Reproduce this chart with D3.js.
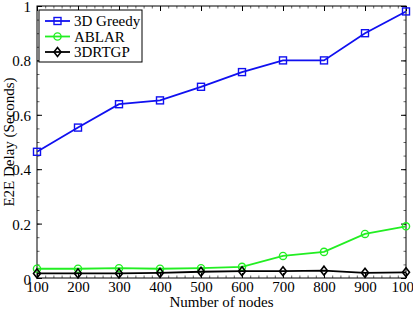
<!DOCTYPE html>
<html>
<head>
<meta charset="utf-8">
<script src="https://cdn.jsdelivr.net/npm/d3@7"></script>
<style>
  body { margin: 0; background: #fff; }
  svg, svg text { font-family: "Liberation Serif", "DejaVu Serif", "Times New Roman", Times, serif; }
</style>
</head>
<body>
<div id="main"></div>
<script>
const nodes = [100, 200, 300, 400, 500, 600, 700, 800, 900, 1000];
const greedy = [0.464, 0.553, 0.639, 0.653, 0.703, 0.757, 0.80, 0.80, 0.90, 0.98];
const ablar = [0.034, 0.034, 0.036, 0.034, 0.036, 0.041, 0.081, 0.096, 0.162, 0.19];
const rtgp = [0.017, 0.017, 0.017, 0.019, 0.023, 0.025, 0.025, 0.027, 0.019, 0.021];
const yTicks = [0, 0.2, 0.4, 0.6, 0.8, 1];
const seriesNames = ["3D Greedy", "ABLAR", "3DRTGP"];

const width = 413, height = 310;
const margin = {left: 37, right: 7, top: 6, bottom: 32};
const serif = "'Liberation Serif', 'DejaVu Serif', 'Times New Roman', serif";

const x = d3.scaleLinear().domain([100, 1000]).range([margin.left, width - margin.right]);
const y = d3.scaleLinear().domain([0, 1]).range([height - margin.bottom, margin.top]);

const svg = d3.select("#main").append("svg")
    .attr("width", width)
    .attr("height", height)
    .attr("font-family", serif);

// plot box
svg.append("rect")
    .attr("x", x.range()[0]).attr("y", y.range()[1])
    .attr("width", x.range()[1] - x.range()[0])
    .attr("height", y.range()[0] - y.range()[1])
    .attr("fill", "none").attr("stroke", "#000").attr("stroke-width", 1);

// minor ticks, all four sides, pointing inward
const xMinor = d3.range(100, 1001, 20);
const yMinor = d3.range(0, 1.0001, 0.05);
const minorAxes = [
    [d3.axisBottom(x), `translate(0,${y(0)})`, xMinor],
    [d3.axisTop(x), `translate(0,${y(1)})`, xMinor],
    [d3.axisLeft(y), `translate(${x(100)},0)`, yMinor],
    [d3.axisRight(y), `translate(${x(1000)},0)`, yMinor]
];
minorAxes.forEach(([ax, tr, vals]) => {
    svg.append("g").attr("transform", tr)
        .call(ax.tickValues(vals).tickSize(-2.5).tickFormat(""))
        .call(g => g.select(".domain").remove())
        .call(g => g.selectAll("line").attr("stroke", "#000").attr("stroke-width", 0.6));
});

// major ticks
const xAxis = svg.append("g").attr("transform", `translate(0,${y(0)})`)
    .call(d3.axisBottom(x).tickValues(nodes).tickSize(-5).tickPadding(5).tickFormat(d3.format("d")));
const yAxis = svg.append("g").attr("transform", `translate(${x(100)},0)`)
    .call(d3.axisLeft(y).tickValues(yTicks).tickSize(-5).tickPadding(6).tickFormat(d => d3.format("")(d)));
svg.append("g").attr("transform", `translate(0,${y(1)})`)
    .call(d3.axisTop(x).tickValues(nodes).tickSize(-5).tickFormat(""));
svg.append("g").attr("transform", `translate(${x(1000)},0)`)
    .call(d3.axisRight(y).tickValues(yTicks).tickSize(-5).tickFormat(""));

svg.selectAll(".domain").remove();
svg.selectAll("g").attr("font-family", serif);
svg.selectAll(".tick line").attr("stroke", "#000");
svg.selectAll(".tick text")
    .attr("font-size", 15)
    .attr("fill", "#000");
xAxis.selectAll(".tick text").attr("dy", "0.62em");
yAxis.selectAll(".tick text").attr("dy", "0.36em");
yAxis.selectAll(".tick text").filter(d => d === 0).attr("dy", "0.45em");

// axis titles
svg.append("text")
    .attr("x", (x.range()[0] + x.range()[1]) / 2)
    .attr("y", 307)
    .attr("text-anchor", "middle")
    .attr("font-size", 15)
    .text("Number of nodes");
svg.append("text")
    .attr("transform", `translate(14,${(y.range()[0] + y.range()[1]) / 2}) rotate(-90)`)
    .attr("text-anchor", "middle")
    .attr("font-size", 15)
    .text("E2E Delay (Seconds)");

const series = [
    {name: seriesNames[0], values: greedy, color: "#1010f0", marker: "square"},
    {name: seriesNames[1], values: ablar, color: "#22ee22", marker: "circle"},
    {name: seriesNames[2], values: rtgp, color: "#000000", marker: "diamond"}
];

const line = d3.line().x(d => x(d[0])).y(d => y(d[1]));

function drawMarker(g, type, color) {
    if (type === "square") {
        g.append("rect").attr("x", -3.5).attr("y", -3.5).attr("width", 7).attr("height", 7)
            .attr("fill", "none").attr("stroke", color).attr("stroke-width", 1.4);
    } else if (type === "circle") {
        g.append("circle").attr("r", 3.6)
            .attr("fill", "none").attr("stroke", color).attr("stroke-width", 1.4);
    } else {
        g.append("path").attr("d", "M0,-4.5L3.5,0L0,4.5L-3.5,0Z")
            .attr("fill", "none").attr("stroke", color).attr("stroke-width", 1.6);
    }
}

series.forEach(s => {
    const pts = nodes.map((n, i) => [n, s.values[i]]);
    svg.append("path")
        .attr("d", line(pts))
        .attr("fill", "none")
        .attr("stroke", s.color)
        .attr("stroke-width", 1.8);
    pts.forEach(p => {
        const g = svg.append("g").attr("transform", `translate(${x(p[0])},${y(p[1])})`);
        drawMarker(g, s.marker, s.color);
    });
});

// legend
const legend = svg.append("g").attr("transform", "translate(39,10)");
legend.append("rect")
    .attr("width", 103).attr("height", 52)
    .attr("fill", "#fff").attr("stroke", "#000").attr("stroke-width", 1);
series.forEach((s, i) => {
    const ly = 11 + i * 15.5;
    legend.append("line")
        .attr("x1", 6).attr("x2", 31).attr("y1", ly).attr("y2", ly)
        .attr("stroke", s.color).attr("stroke-width", 1.8);
    drawMarker(legend.append("g").attr("transform", `translate(18.5,${ly})`), s.marker, s.color);
    legend.append("text")
        .attr("x", 35).attr("y", ly).attr("dy", "0.35em")
        .attr("font-size", 15)
        .text(s.name);
});
</script>
</body>
</html>
